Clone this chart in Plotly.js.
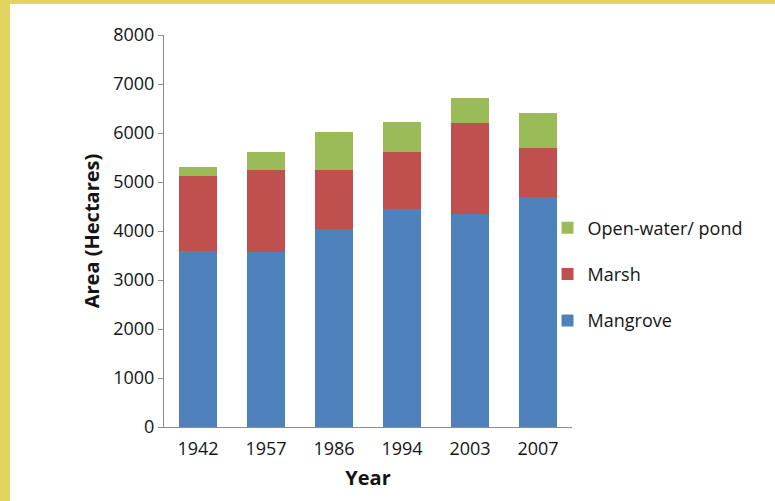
<!DOCTYPE html>
<html>
<head>
<meta charset="utf-8">
<script src="https://cdn.plot.ly/plotly-3.0.1.min.js"></script>
<style>
  html, body { margin: 0; padding: 0; background: #ffffff; }
  #wrap { position: relative; width: 775px; height: 501px; overflow: hidden; }
  .band { position: absolute; background: #e3d35f; }
  #chart { position: absolute; left: 0; top: 0; width: 775px; height: 501px; }
</style>
</head>
<body>
<div id="wrap">
  <div class="band" style="left:0;top:0;width:775px;height:4px;"></div>
  <div class="band" style="left:0;top:0;width:10px;height:501px;"></div>
  <div id="chart"></div>
</div>
<script>
const years = ['1942', '1957', '1986', '1994', '2003', '2007'];
const mangrove = [3600, 3580, 4050, 4450, 4350, 4700];
const marsh = [1520, 1670, 1200, 1170, 1850, 1000];
const openWater = [180, 370, 780, 610, 520, 700];
const yTicks = [0, 1000, 2000, 3000, 4000, 5000, 6000, 7000, 8000];

const fontFam = 'Open Sans, Noto Sans, sans-serif';
const txt = '#141414';

const traces = [
  { type: 'bar', name: 'Mangrove', x: years, y: mangrove, legendgroup: 'c', legendrank: 3,
    marker: { color: '#4f81bd' } },
  { type: 'bar', name: 'Marsh', x: years, y: marsh, legendgroup: 'b', legendrank: 2,
    marker: { color: '#c0504d' } },
  { type: 'bar', name: 'Open-water/ pond', x: years, y: openWater, legendgroup: 'a', legendrank: 1,
    marker: { color: '#9bbb59' } }
];

const layout = {
  width: 775, height: 501,
  paper_bgcolor: 'rgba(0,0,0,0)',
  plot_bgcolor: '#ffffff',
  margin: { l: 164, r: 203, t: 35, b: 74, autoexpand: false },
  barmode: 'stack',
  bargap: 0.43,
  font: { family: fontFam, size: 18, color: txt },
  showlegend: true,
  legend: {
    x: 0.94, xanchor: 'left', y: 0.555, yanchor: 'top',
    traceorder: 'grouped', tracegroupgap: 20,
    font: { family: fontFam, size: 18, color: txt },
    itemwidth: 30, bgcolor: 'rgba(0,0,0,0)'
  },
  xaxis: {
    type: 'category',
    showline: true, linecolor: '#8c8c8c', linewidth: 1,
    ticks: '', showgrid: false, zeroline: false,
    ticklabelstandoff: 5,
    tickfont: { family: fontFam, size: 18, color: txt },
    title: { text: '<b>Year</b>', font: { family: fontFam, size: 20, color: txt }, standoff: 12 }
  },
  yaxis: {
    range: [0, 8000],
    tickvals: yTicks,
    showline: true, linecolor: '#8c8c8c', linewidth: 1,
    ticks: 'outside', ticklen: 5, tickcolor: '#8c8c8c',
    showgrid: false, zeroline: false,
    tickfont: { family: fontFam, size: 18, color: txt },
    title: { text: '<b>Area (Hectares)</b>', font: { family: fontFam, size: 20, color: txt }, standoff: 8 }
  }
};

Plotly.newPlot('chart', traces, layout, { displayModeBar: false, staticPlot: true });
</script>
</body>
</html>
